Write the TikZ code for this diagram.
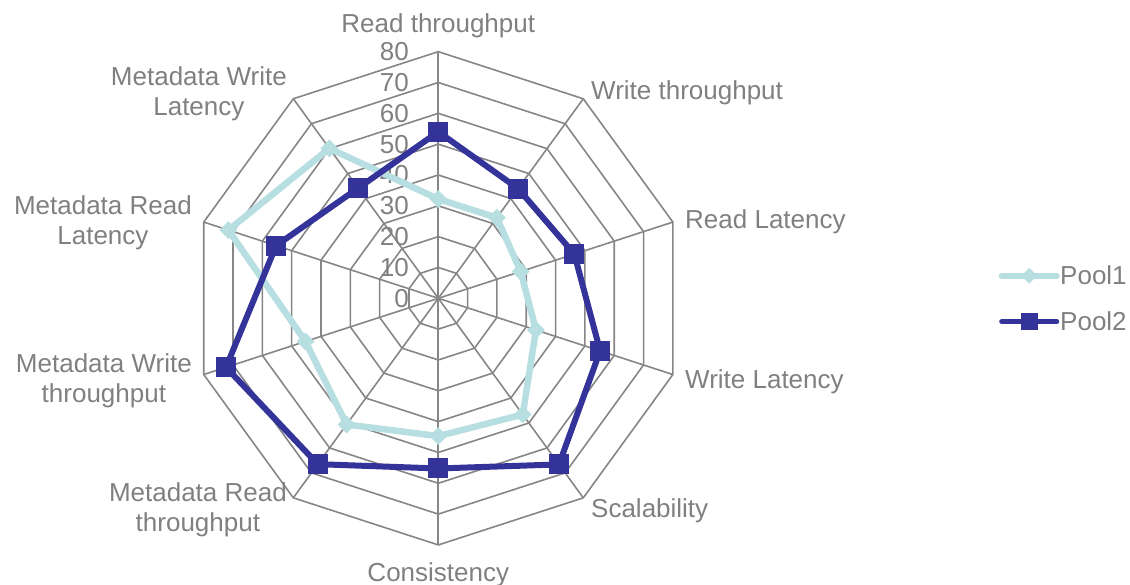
\documentclass[tikz,border=0pt]{standalone}
\usepackage{fontspec}
\setmainfont{Liberation Sans}
\usetikzlibrary{shapes.geometric}
\definecolor{gridgray}{HTML}{868686}
\definecolor{txtgray}{HTML}{808080}
\definecolor{poolone}{HTML}{B7DEE1}
\definecolor{pooltwo}{HTML}{333399}
\begin{document}
\begin{tikzpicture}[x=1pt,y=1pt,
  gridline/.style={draw=gridgray, line width=1.6pt},
  lbl/.style={text=txtgray, font=\fontsize{26}{30}\selectfont, inner sep=0pt, align=center},
  oneline/.style={draw=poolone, line width=6.5pt, line join=round, line cap=round},
  twoline/.style={draw=pooltwo, line width=6pt, line join=round, line cap=round},
  onemark/.style={diamond, fill=poolone, draw=none, minimum width=18pt, minimum height=18pt, inner sep=0pt},
  twomark/.style={rectangle, fill=pooltwo, draw=none, minimum size=20pt, inner sep=0pt},
]
\useasboundingbox (-438.3,-285.7) rectangle (691.7,298.3);
\def\u{3.083}
% rings
\foreach \k in {1,...,8}{
  \draw[gridline] (90:{\k*30.83}) \foreach \a in {54,18,-18,-54,-90,-126,-162,-198,-234} { -- (\a:{\k*30.83}) } -- cycle;
}
% spokes
\coordinate (c) at (0,0);
\foreach \i in {0,...,9}{
  \coordinate (ax\i) at ({90-36*\i}:246.6);
  \draw[gridline] (c) -- (ax\i);
}
% tick labels
\foreach \k in {0,...,8}{
  \node[lbl, anchor=east] (t\k) at (-29.3,{\k*30.83}) {\the\numexpr\k*10\relax};
}
% axis labels
\node[lbl, anchor=south] (l0) at (0,260) {Read throughput};
\node[lbl, anchor=west] (l1) at (152.7,205.3) {Write throughput};
\node[lbl, anchor=west] (l2) at (246.7,76.3) {Read Latency};
\node[lbl, anchor=west] (l3) at (246.7,-83.7) {Write Latency};
\node[lbl, anchor=west] (l4) at (152.7,-212.7) {Scalability};
\node[lbl, anchor=north] (l5) at (0,-264) {Consistency};
\node[lbl, anchor=east] (l6) at (-151.3,-211.7) {Metadata Read\\throughput};
\node[lbl, anchor=east] (l7) at (-246.3,-82.7) {Metadata Write\\throughput};
\node[lbl, anchor=east] (l8) at (-246.3,75.3) {Metadata Read\\Latency};
\node[lbl, anchor=east] (l9) at (-151.3,204.3) {Metadata Write\\Latency};
% data
\foreach \v [count=\i from 0] in {32.2,32.3,28.1,33.3,46.6,44.7,50.6,45.3,71.6,60.1}{
  \coordinate (p1-\i) at ({90-36*\i}:{\v*\u});
}
\foreach \v [count=\i from 0] in {54,44,46.4,55.2,66.6,55.2,66.5,72.4,55.3,44.2}{
  \coordinate (p2-\i) at ({90-36*\i}:{\v*\u});
}
\draw[oneline] (p1-0) -- (p1-1) -- (p1-2) -- (p1-3) -- (p1-4) -- (p1-5) -- (p1-6) -- (p1-7) -- (p1-8) -- (p1-9) -- cycle;
\foreach \i in {0,...,9}{ \node[onemark] (m1-\i) at (p1-\i) {}; }
\draw[twoline] (p2-0) -- (p2-1) -- (p2-2) -- (p2-3) -- (p2-4) -- (p2-5) -- (p2-6) -- (p2-7) -- (p2-8) -- (p2-9) -- cycle;
\foreach \i in {0,...,9}{ \node[twomark] (m2-\i) at (p2-\i) {}; }
% legend
\coordinate (g1a) at (563.4,22.6);
\coordinate (g1b) at (618.4,22.6);
\draw[oneline, line width=6pt] (g1a) -- (g1b);
\node[onemark, minimum width=16pt, minimum height=16pt] (g1m) at (591,22.6) {};
\node[lbl, anchor=west] (g1t) at (621.7,22.6) {Pool1};
\coordinate (g2a) at (563.4,-23.4);
\coordinate (g2b) at (618.4,-23.4);
\draw[twoline, line width=5pt] (g2a) -- (g2b);
\node[twomark, minimum size=17pt] (g2m) at (591,-23.4) {};
\node[lbl, anchor=west] (g2t) at (621.7,-23.4) {Pool2};
\end{tikzpicture}
\end{document}
